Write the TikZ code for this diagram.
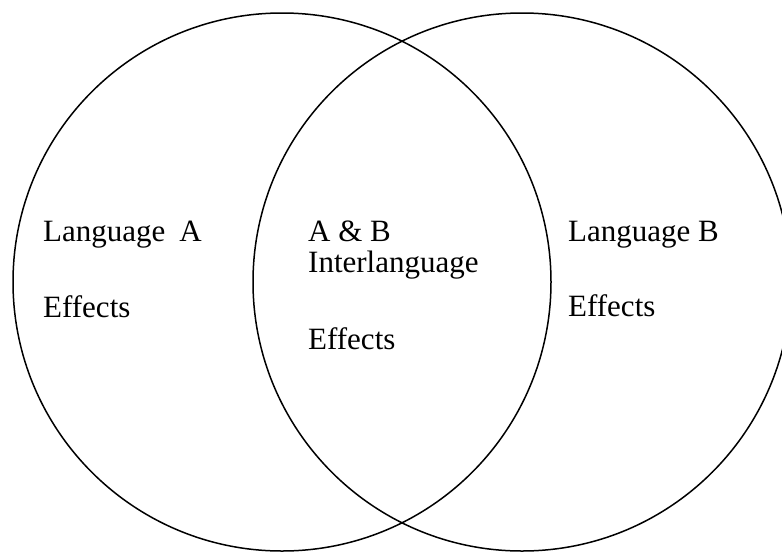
\documentclass[tikz,border=0pt]{standalone}
\usepackage{fontspec}
\setmainfont{Liberation Serif}
\begin{document}
\begin{tikzpicture}[x=1pt,y=-1pt,
  ring/.style={draw=black,line width=1.5pt},
  lbl/.style={anchor=base west,inner sep=0pt,font=\fontsize{31}{36}\selectfont}]
\useasboundingbox (0,0) rectangle (782,555);
\begin{scope}
\clip (0,0) rectangle (782,555);
\node[ring,circle,minimum size=538pt,inner sep=0pt] (A) at (282,282) {};
\node[ring,circle,minimum size=538pt,inner sep=0pt] (B) at (522,282) {};
\end{scope}
\node[lbl] (la) at (43,241) {Language\hspace{0.45em}A};
\node[lbl] (ea) at (43,317) {Effects};
\node[lbl] (ab) at (308,241) {A \& B};
\node[lbl] (il) at (308,272) {Interlanguage};
\node[lbl] (ec) at (308,349) {Effects};
\node[lbl] (lb) at (568,241) {Language B};
\node[lbl] (eb) at (568,316) {Effects};
\end{tikzpicture}
\end{document}
